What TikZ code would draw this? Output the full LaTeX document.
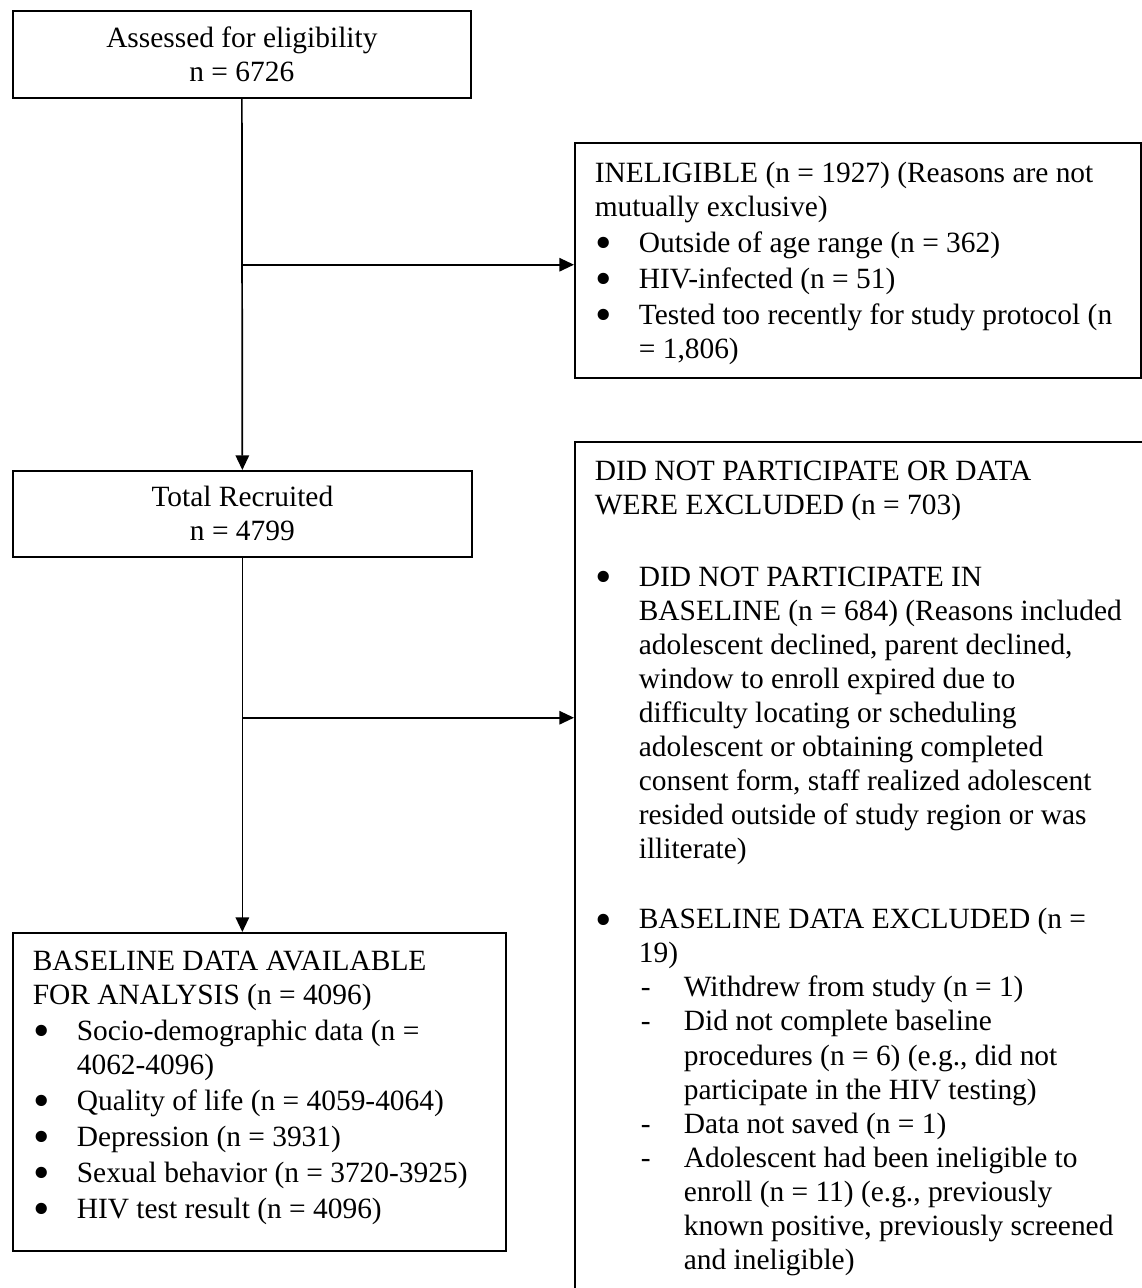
\documentclass[tikz,border=0pt]{standalone}
\usepackage{fontspec}
\usepackage{graphicx}
\setmainfont{Liberation Serif}
\usetikzlibrary{arrows.meta}

% one pixel of the flow chart
\newdimen\pix \pix=0.408pt
% bullet and dash items with hanging indent
\newcommand{\bigdot}{\smash{\raisebox{-2.6pt}{\scalebox{1.6}{\textbullet}}}}
\newcommand{\bitem}{\par\hangindent=44\pix\hangafter=1\leavevmode\makebox[44\pix][l]{\hspace{1\pix}\bigdot}}
\newcommand{\ditem}{\par\hangindent=89\pix\hangafter=1\leavevmode\hspace*{46\pix}\makebox[43\pix][l]{-}}

\begin{document}
\begin{tikzpicture}[x=0.408pt, y=-0.408pt, line width=0.7pt,
    font=\fontsize{12}{13.9}\selectfont,
    box/.style={draw, inner sep=0pt, anchor=north west},
    txt/.style={inner sep=0pt, anchor=base west},
    arr/.style={-{Triangle[length=6pt,width=5.5pt]}}]
    \useasboundingbox (0,0) rectangle (1142,1288);

    % main column
    \node[box, minimum width=458*\pix, minimum height=87*\pix, align=center] (assessed) at (12,10)
        {Assessed for eligibility\\ n = 6726};
    \node[box, minimum width=459*\pix, minimum height=86*\pix, align=center] (recruited) at (12,470)
        {Total Recruited\\ n = 4799};
    \node[box, minimum width=493*\pix, minimum height=318*\pix] (baseline) at (12,932) {};

    % side boxes (the lower one runs off the page)
    \node[box, minimum width=566*\pix, minimum height=235*\pix] (ineligible) at (574,142) {};
    \node[box, minimum width=620*\pix, minimum height=900*\pix] (excluded) at (574,441) {};

    % texts of the list boxes
    \node[txt, text width=540*\pix] (inelig-txt) at ([shift={(20,40)}]ineligible.north west) {%
        \spaceskip=0pt\xspaceskip=0pt\setlength{\parskip}{2\pix}%
        INELIGIBLE (n = 1927) (Reasons are not\newline mutually exclusive)
        \bitem Outside of age range (n = 362)
        \bitem HIV-infected (n = 51)
        \bitem Tested too recently for study protocol (n\newline = 1,806)\par};

    \node[txt, text width=545*\pix] (excl-txt) at ([shift={(20,39)}]excluded.north west) {%
        \spaceskip=0pt\xspaceskip=0pt%
        DID NOT PARTICIPATE OR DATA\newline WERE EXCLUDED (n = 703)\par\vspace{38\pix}
        \bitem DID NOT PARTICIPATE IN\newline BASELINE (n = 684) (Reasons included\newline
            adolescent declined, parent declined,\newline window to enroll expired due to\newline
            difficulty locating or scheduling\newline adolescent or obtaining completed\newline
            consent form, staff realized adolescent\newline resided outside of study region or was\newline
            illiterate)\par\vspace{36\pix}
        \bitem BASELINE DATA EXCLUDED (n =\newline 19)
        \ditem Withdrew from study (n = 1)
        \ditem Did not complete baseline\newline procedures (n = 6) (e.g., did not\newline
            participate in the HIV testing)
        \ditem Data not saved (n = 1)
        \ditem Adolescent had been ineligible to\newline enroll (n = 11) (e.g., previously\newline
            known positive, previously screened\newline and ineligible)\par};

    \node[txt, text width=470*\pix] (base-txt) at ([shift={(20,38)}]baseline.north west) {%
        \spaceskip=0pt\xspaceskip=0pt\setlength{\parskip}{2\pix}%
        BASELINE DATA AVAILABLE\newline FOR ANALYSIS (n = 4096)
        \bitem Socio-demographic data (n =\newline 4062-4096)
        \bitem Quality of life (n = 4059-4064)
        \bitem Depression (n = 3931)
        \bitem Sexual behavior (n = 3720-3925)
        \bitem HIV test result (n = 4096)\par};

    % connectors
    \coordinate (split1) at ([shift={(0,166)}]assessed.south);
    \coordinate (split2) at ([shift={(0,160)}]recruited.south);
    \draw[arr] (assessed.south) -- (recruited.north);
    \draw[arr] (split1) -- (split1 -| ineligible.west);
    \draw[arr] (recruited.south) -- (recruited.south |- baseline.north);
    \draw[arr] (split2) -- (split2 -| excluded.west);
\end{tikzpicture}
\end{document}
